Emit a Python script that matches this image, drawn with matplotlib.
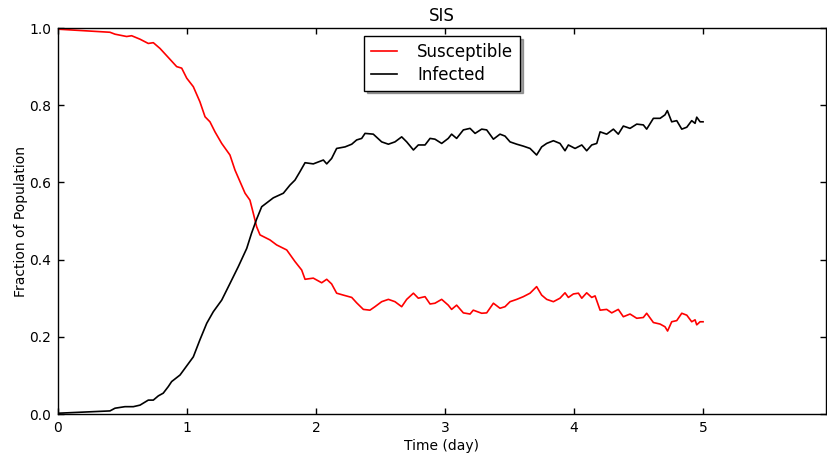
import matplotlib
matplotlib.use("Agg")
import matplotlib.pyplot as plt

# values (time in days, fraction of population)
t_sus = [0.0, 0.403, 0.442, 0.532, 0.571, 0.636, 0.70, 0.739, 0.791, 0.868, 0.92, 0.959,
         0.998, 1.049, 1.10, 1.14, 1.178, 1.217, 1.269, 1.333, 1.372, 1.45, 1.488, 1.514,
         1.54, 1.566, 1.643, 1.695, 1.773, 1.837, 1.889, 1.915, 1.979, 2.044, 2.083, 2.121,
         2.16, 2.212, 2.277, 2.315, 2.367, 2.418, 2.457, 2.509, 2.561, 2.612, 2.664, 2.703,
         2.755, 2.793, 2.845, 2.884, 2.922, 2.974, 3.025, 3.051, 3.09, 3.142, 3.194, 3.219,
         3.284, 3.323, 3.375, 3.426, 3.465, 3.504, 3.556, 3.607, 3.659, 3.71, 3.749, 3.788,
         3.84, 3.891, 3.93, 3.956, 3.995, 4.034, 4.06, 4.098, 4.137, 4.163, 4.202, 4.253,
         4.292, 4.343, 4.382, 4.434, 4.486, 4.537, 4.563, 4.615, 4.667, 4.705, 4.725, 4.757,
         4.796, 4.835, 4.874, 4.912, 4.938, 4.951, 4.977, 5.0]
susceptible = [0.997, 0.989, 0.984, 0.978, 0.980, 0.971, 0.960, 0.962, 0.947, 0.919, 0.900, 0.896,
               0.870, 0.848, 0.809, 0.770, 0.757, 0.731, 0.701, 0.671, 0.632, 0.572, 0.554, 0.520,
               0.485, 0.464, 0.451, 0.438, 0.425, 0.395, 0.373, 0.349, 0.352, 0.340, 0.349, 0.337,
               0.313, 0.308, 0.302, 0.288, 0.271, 0.269, 0.278, 0.291, 0.297, 0.291, 0.278, 0.297,
               0.313, 0.300, 0.304, 0.285, 0.287, 0.297, 0.282, 0.271, 0.282, 0.262, 0.259, 0.269,
               0.261, 0.262, 0.287, 0.274, 0.278, 0.291, 0.297, 0.304, 0.313, 0.330, 0.308, 0.297,
               0.291, 0.300, 0.314, 0.302, 0.311, 0.313, 0.300, 0.314, 0.302, 0.306, 0.269, 0.271,
               0.262, 0.271, 0.252, 0.259, 0.248, 0.250, 0.261, 0.237, 0.233, 0.226, 0.215, 0.239,
               0.242, 0.261, 0.256, 0.239, 0.244, 0.231, 0.239, 0.239]

t_inf = [0.0, 0.403, 0.442, 0.519, 0.584, 0.636, 0.70, 0.739, 0.778, 0.816, 0.855, 0.881,
         0.946, 1.049, 1.10, 1.153, 1.204, 1.269, 1.333, 1.398, 1.463, 1.50, 1.54, 1.579,
         1.669, 1.747, 1.798, 1.837, 1.876, 1.915, 1.979, 2.057, 2.083, 2.121, 2.16, 2.225,
         2.277, 2.315, 2.354, 2.38, 2.444, 2.509, 2.561, 2.612, 2.664, 2.703, 2.755, 2.793,
         2.845, 2.884, 2.922, 2.974, 3.025, 3.051, 3.09, 3.142, 3.194, 3.233, 3.284, 3.323,
         3.375, 3.426, 3.465, 3.504, 3.556, 3.607, 3.659, 3.71, 3.749, 3.788, 3.84, 3.891,
         3.93, 3.956, 4.008, 4.06, 4.098, 4.137, 4.176, 4.202, 4.253, 4.305, 4.343, 4.382,
         4.434, 4.486, 4.537, 4.563, 4.615, 4.667, 4.705, 4.723, 4.757, 4.796, 4.835, 4.874,
         4.912, 4.938, 4.951, 4.977, 5.0]
infected = [0.002, 0.008, 0.015, 0.019, 0.019, 0.023, 0.036, 0.036, 0.047, 0.054, 0.071, 0.084,
            0.101, 0.148, 0.192, 0.235, 0.265, 0.295, 0.338, 0.382, 0.429, 0.468, 0.505, 0.537,
            0.560, 0.572, 0.593, 0.606, 0.628, 0.651, 0.648, 0.658, 0.648, 0.662, 0.688, 0.692,
            0.699, 0.710, 0.714, 0.727, 0.725, 0.705, 0.699, 0.705, 0.718, 0.705, 0.684, 0.697,
            0.697, 0.714, 0.712, 0.701, 0.714, 0.725, 0.714, 0.736, 0.740, 0.727, 0.738, 0.736,
            0.712, 0.725, 0.720, 0.705, 0.699, 0.694, 0.688, 0.671, 0.692, 0.701, 0.708, 0.701,
            0.682, 0.697, 0.688, 0.697, 0.682, 0.697, 0.701, 0.731, 0.725, 0.738, 0.725, 0.746,
            0.740, 0.751, 0.749, 0.738, 0.766, 0.766, 0.775, 0.786, 0.757, 0.760, 0.738, 0.743,
            0.760, 0.753, 0.769, 0.757, 0.757]

x_ticks = [0, 1, 2, 3, 4, 5]
y_ticks = [0.0, 0.2, 0.4, 0.6, 0.8, 1.0]

plt.rcParams['font.family'] = ['DejaVu Sans']
plt.rcParams['xtick.direction'] = 'in'
plt.rcParams['ytick.direction'] = 'in'

fig = plt.figure(figsize=(8.27, 4.54), dpi=100)
ax = fig.add_axes([0.0701, 0.0881, 0.9287, 0.8502])

ax.plot(t_sus, susceptible, color='red', lw=1.2, label='Susceptible')
ax.plot(t_inf, infected, color='black', lw=1.2, label='Infected')

ax.set_xlim(0, 5.953)
ax.set_ylim(0, 1.0)
ax.set_xticks(x_ticks)
ax.set_yticks(y_ticks)
ax.set_xticklabels([str(v) for v in x_ticks])
ax.set_yticklabels(['%.1f' % v for v in y_ticks])
ax.tick_params(top=True, right=True, length=4, width=1, labelsize=10, pad=5)
for sp in ax.spines.values():
    sp.set_linewidth(1.0)

ax.set_title('SIS', fontsize=12, pad=5)
ax.set_xlabel('Time (day)', fontsize=10, labelpad=3)
ax.set_ylabel('Fraction of Population', fontsize=10, labelpad=1)

leg = ax.legend(loc='upper center', fontsize=12, fancybox=False, shadow=True,
                handlelength=1.6, handletextpad=1.2, borderpad=0.4, labelspacing=0.3,
                borderaxespad=0.5)
leg.get_frame().set_edgecolor('black')
leg.get_frame().set_linewidth(1.0)

fig.savefig('out.png', dpi=100)
